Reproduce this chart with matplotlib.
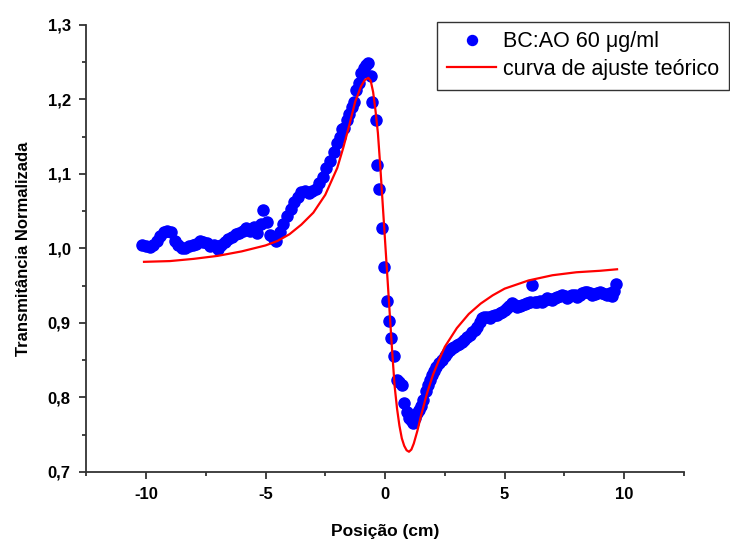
import matplotlib
matplotlib.use("Agg")
import matplotlib.pyplot as plt
from matplotlib.ticker import MultipleLocator

plt.rcParams['font.family'] = ['Liberation Sans', 'DejaVu Sans']

# measured points (posição em cm, transmitância normalizada)
pos = [
    -10.15, -10.0, -9.85, -9.7, -9.55, -9.4, -9.25, -9.1, -8.95, -8.8,
    -8.65, -8.5, -8.35, -8.2, -8.05, -7.9, -7.75, -7.6, -7.45, -7.3,
    -7.15, -7.0, -6.85, -6.7, -6.55, -6.4, -6.25, -6.1, -5.95, -5.8,
    -5.65, -5.5, -5.35, -5.2, -5.1, -4.95, -4.8, -4.65, -4.55, -4.4,
    -4.25, -4.1, -3.95, -3.8, -3.65, -3.5, -3.35, -3.2, -3.05, -2.9,
    -2.75, -2.6, -2.45, -2.3, -2.15, -2.0, -1.9, -1.8, -1.7, -1.6,
    -1.5, -1.4, -1.3, -1.2, -1.1, -1.0, -0.9, -0.8, -0.7, -0.6,
    -0.53, -0.4, -0.32, -0.25, -0.12, -0.04, 0.08, 0.17, 0.25, 0.38,
    0.5, 0.6, 0.7, 0.8, 0.9, 1.0, 1.09, 1.17, 1.25, 1.34,
    1.42, 1.5, 1.6, 1.7, 1.78, 1.87, 1.95, 2.05, 2.15, 2.25,
    2.38, 2.5, 2.6, 2.7, 2.8, 2.9, 3.0, 3.1, 3.2, 3.3,
    3.43, 3.55, 3.64, 3.75, 3.85, 3.95, 4.06, 4.15, 4.27, 4.38,
    4.48, 4.6, 4.69, 4.8, 4.9, 5.0, 5.1, 5.2, 5.31, 5.42,
    5.52, 5.63, 5.73, 5.85, 5.94, 6.05, 6.15, 6.25, 6.36, 6.47,
    6.57, 6.68, 6.78, 6.88, 6.99, 7.1, 7.2, 7.3, 7.41, 7.52,
    7.62, 7.72, 7.82, 7.93, 8.03, 8.14, 8.24, 8.35, 8.45, 8.55,
    8.66, 8.76, 8.87, 8.97, 9.08, 9.18, 9.29, 9.4, 9.5, 9.58,
    9.67,
]
trans = [
    1.005, 1.003, 1.002, 1.005, 1.010, 1.017, 1.022, 1.024, 1.022, 1.010,
    1.004, 1.001, 1.001, 1.003, 1.005, 1.006, 1.010, 1.009, 1.007, 1.003,
    1.004, 0.999, 1.004, 1.008, 1.012, 1.015, 1.019, 1.021, 1.024, 1.027,
    1.023, 1.029, 1.021, 1.033, 1.052, 1.036, 1.018, 1.012, 1.010, 1.022,
    1.033, 1.043, 1.053, 1.062, 1.069, 1.076, 1.077, 1.075, 1.077, 1.080,
    1.088, 1.096, 1.108, 1.118, 1.130, 1.141, 1.150, 1.160, 1.162, 1.172,
    1.180, 1.190, 1.197, 1.213, 1.222, 1.236, 1.242, 1.246, 1.249, 1.231,
    1.196, 1.172, 1.112, 1.080, 1.028, 0.975, 0.929, 0.903, 0.880, 0.856,
    0.823, 0.820, 0.817, 0.793, 0.780, 0.772, 0.770, 0.766, 0.772, 0.779,
    0.783, 0.788, 0.797, 0.808, 0.817, 0.824, 0.830, 0.835, 0.841, 0.846,
    0.850, 0.856, 0.860, 0.863, 0.866, 0.868, 0.870, 0.872, 0.874, 0.877,
    0.881, 0.884, 0.888, 0.891, 0.895, 0.901, 0.907, 0.908, 0.908, 0.907,
    0.909, 0.910, 0.911, 0.913, 0.915, 0.917, 0.920, 0.923, 0.927, 0.924,
    0.921, 0.923, 0.924, 0.926, 0.927, 0.928, 0.951, 0.928, 0.928, 0.929,
    0.928, 0.931, 0.934, 0.932, 0.931, 0.933, 0.935, 0.936, 0.938, 0.936,
    0.934, 0.936, 0.938, 0.937, 0.935, 0.938, 0.940, 0.941, 0.942, 0.940,
    0.938, 0.939, 0.940, 0.941, 0.940, 0.939, 0.938, 0.940, 0.936, 0.943,
    0.952,
]

# theoretical fit
fit_pos = [
    -10.08, -9.0, -8.0, -7.0, -6.0, -5.0, -4.5, -4.0, -3.5, -3.0,
    -2.5, -2.0, -1.75, -1.5, -1.25, -1.0, -0.85, -0.7, -0.6, -0.5,
    -0.4, -0.3, -0.2, -0.1, 0.0, 0.1, 0.2, 0.3, 0.4, 0.5,
    0.6, 0.7, 0.8, 0.9, 1.0, 1.1, 1.2, 1.35, 1.5, 1.75,
    2.0, 2.25, 2.5, 3.0, 3.5, 4.0, 4.5, 5.0, 6.0, 7.0,
    8.0, 9.0, 9.7,
]
fit_trans = [
    0.982, 0.983, 0.986, 0.990, 0.996, 1.004, 1.010, 1.019, 1.032, 1.048,
    1.072, 1.108, 1.135, 1.165, 1.197, 1.218, 1.226, 1.229, 1.225, 1.210,
    1.185, 1.155, 1.110, 1.060, 1.010, 0.960, 0.910, 0.860, 0.815, 0.785,
    0.762, 0.745, 0.735, 0.729, 0.727, 0.730, 0.738, 0.755, 0.775, 0.805,
    0.830, 0.850, 0.868, 0.893, 0.912, 0.926, 0.937, 0.946, 0.957, 0.964,
    0.968, 0.970, 0.972,
]

xticks = [-10, -5, 0, 5, 10]
yticks = [0.7, 0.8, 0.9, 1.0, 1.1, 1.2, 1.3]
ytick_labels = ['0,7', '0,8', '0,9', '1,0', '1,1', '1,2', '1,3']

fig = plt.figure(figsize=(7.30, 5.43), dpi=100)
ax = fig.add_axes([0.118, 0.131, 0.819, 0.823])

ax.plot(pos, trans, 'o', color='#0000ff', ms=8, mec='#0000ff',
        label='BC:AO 60 μg/ml', zorder=2)
ax.plot(fit_pos, fit_trans, '-', color='#ff0000', lw=1.6,
        label='curva de ajuste teórico', zorder=3)

ax.set_xlim(-12.5, 12.5)
ax.set_ylim(0.7, 1.3)
ax.set_xticks(xticks)
ax.set_xticklabels([str(t) for t in xticks])
ax.set_yticks(yticks)
ax.set_yticklabels(ytick_labels)
ax.xaxis.set_minor_locator(MultipleLocator(2.5))
ax.yaxis.set_minor_locator(MultipleLocator(0.05))

for s in ['top', 'right']:
    ax.spines[s].set_visible(False)
for s in ['left', 'bottom']:
    ax.spines[s].set_linewidth(1.3)
    ax.spines[s].set_color('#333333')

ax.tick_params(which='major', direction='out', length=5, width=1.3,
               color='#333333', labelsize=12, pad=6)
ax.tick_params(which='minor', direction='out', length=3, width=1.3,
               color='#333333')
for lbl in ax.get_xticklabels() + ax.get_yticklabels():
    lbl.set_fontweight('bold')

ax.set_xlabel('Posição (cm)', fontsize=12.5, fontweight='bold', labelpad=16)
ax.set_ylabel('Transmitância Normalizada', fontsize=12, fontweight='bold',
              labelpad=12)

leg = ax.legend(loc='upper left', bbox_to_anchor=(0.599, 0.96),
                bbox_transform=fig.transFigure, numpoints=1, fontsize=15.5,
                frameon=True, fancybox=False, framealpha=1,
                edgecolor='#333333', handlelength=2.3, handletextpad=0.3,
                borderpad=0.45, labelspacing=0.3, borderaxespad=0,
                markerscale=0.9)
leg.get_frame().set_linewidth(1.0)

fig.savefig('out.png', dpi=100)
